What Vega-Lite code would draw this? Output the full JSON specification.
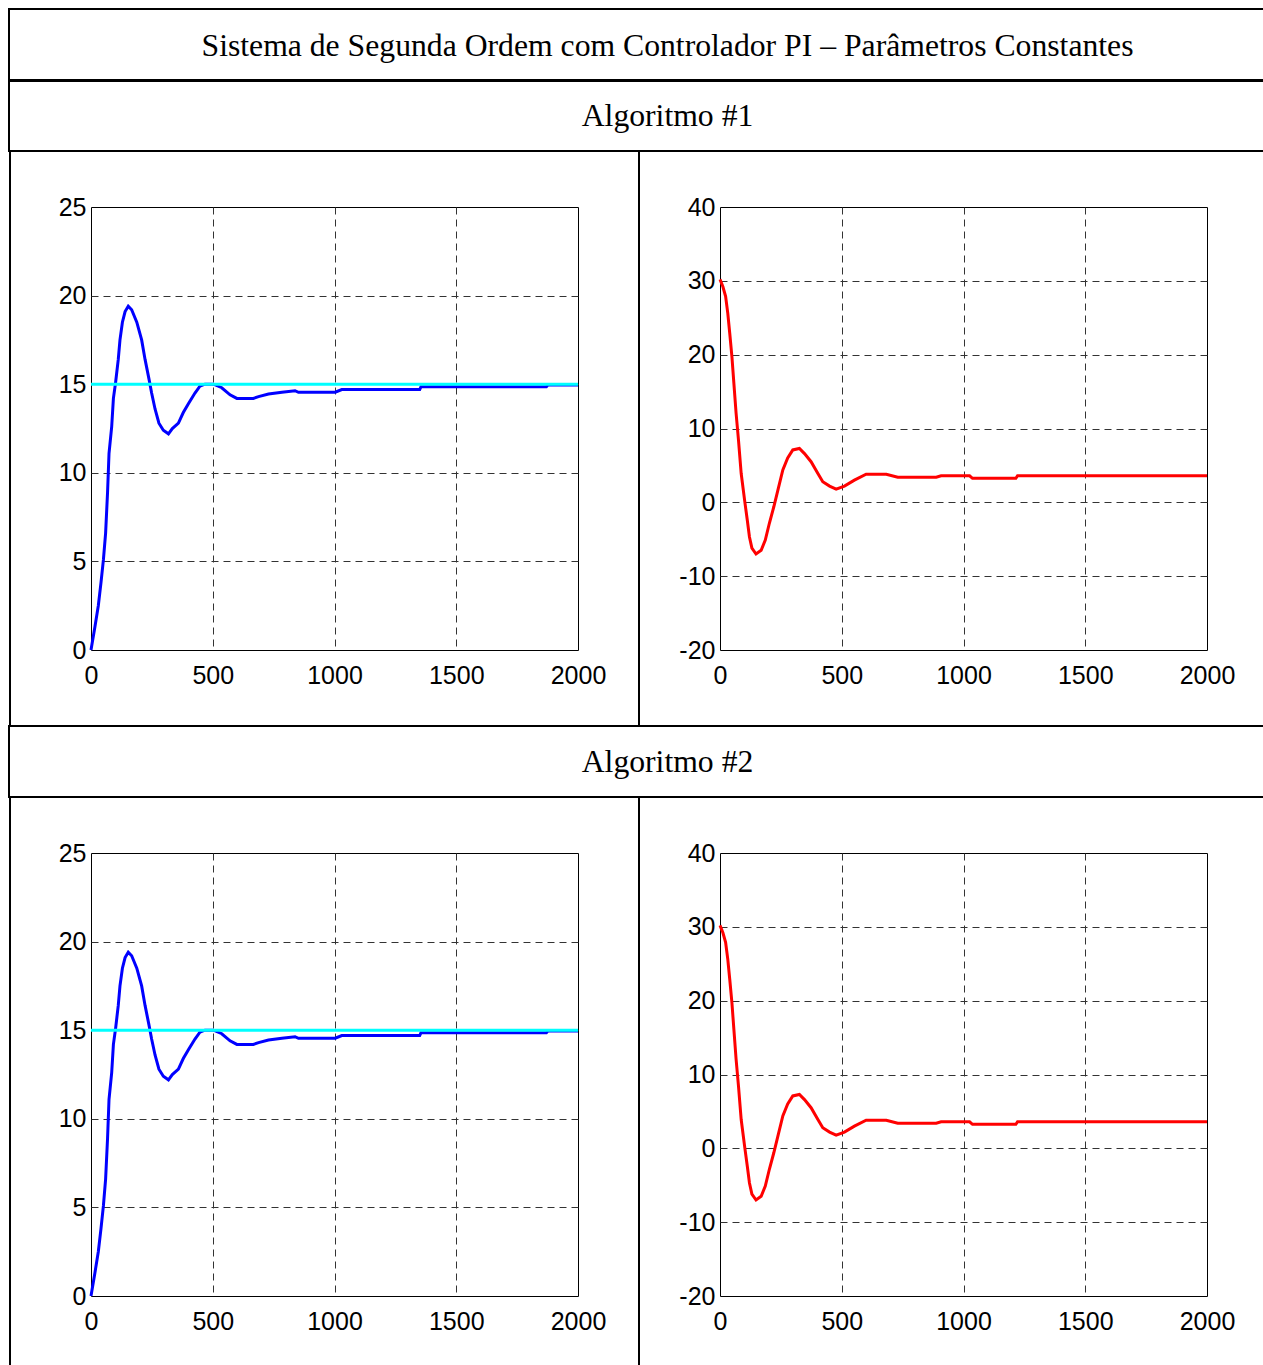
{
  "$schema": "https://vega.github.io/schema/vega-lite/v6.json",
  "padding": {"left": 8, "top": 8, "right": 0, "bottom": 0},
  "background": "white",
  "spacing": -2,
  "datasets": {
    "blue": [
      {"t":0,"v":0},{"t":16,"v":1.3},{"t":30,"v":2.5},{"t":41,"v":3.8},{"t":51,"v":5.1},{"t":60,"v":6.6},{"t":68,"v":8.9},{"t":74,"v":11.1},{"t":85,"v":12.6},{"t":92,"v":14.2},{"t":101,"v":15.1},{"t":112,"v":16.4},{"t":119,"v":17.5},{"t":129,"v":18.5},{"t":140,"v":19.1},{"t":153,"v":19.4},{"t":167,"v":19.2},{"t":188,"v":18.5},{"t":208,"v":17.5},{"t":222,"v":16.4},{"t":238,"v":15.3},{"t":249,"v":14.5},{"t":263,"v":13.6},{"t":279,"v":12.8},{"t":297,"v":12.4},{"t":318,"v":12.2},{"t":334,"v":12.5},{"t":359,"v":12.8},{"t":379,"v":13.4},{"t":400,"v":13.9},{"t":427,"v":14.5},{"t":448,"v":14.9},{"t":468,"v":15.0},{"t":503,"v":15.0},{"t":537,"v":14.8},{"t":571,"v":14.4},{"t":599,"v":14.2},{"t":667,"v":14.2},{"t":688,"v":14.3},{"t":729,"v":14.45},{"t":784,"v":14.55},{"t":838,"v":14.63},{"t":852,"v":14.54},{"t":1003,"v":14.55},{"t":1030,"v":14.7},{"t":1350,"v":14.7},{"t":1355,"v":14.85},{"t":1870,"v":14.85},{"t":1876,"v":14.95},{"t":2000,"v":14.95}
    ],
    "ref": [{"t":0,"v":15},{"t":2000,"v":15}],
    "red": [
      {"t":0,"v":30.2},{"t":12,"v":29.2},{"t":23,"v":27.9},{"t":32,"v":25.6},{"t":40,"v":22.9},{"t":49,"v":19.7},{"t":57,"v":16.1},{"t":66,"v":12.1},{"t":76,"v":8.4},{"t":87,"v":3.9},{"t":101,"v":0.3},{"t":112,"v":-2.4},{"t":121,"v":-4.7},{"t":131,"v":-6.2},{"t":148,"v":-7.0},{"t":169,"v":-6.5},{"t":186,"v":-5.1},{"t":203,"v":-2.8},{"t":221,"v":-0.6},{"t":238,"v":1.7},{"t":258,"v":4.4},{"t":278,"v":6.0},{"t":299,"v":7.1},{"t":326,"v":7.3},{"t":347,"v":6.6},{"t":374,"v":5.5},{"t":402,"v":3.9},{"t":422,"v":2.8},{"t":450,"v":2.2},{"t":477,"v":1.8},{"t":511,"v":2.2},{"t":552,"v":3.0},{"t":600,"v":3.8},{"t":683,"v":3.8},{"t":730,"v":3.4},{"t":888,"v":3.4},{"t":908,"v":3.6},{"t":1025,"v":3.6},{"t":1037,"v":3.25},{"t":1215,"v":3.25},{"t":1222,"v":3.6},{"t":2000,"v":3.6}
    ],
    "t0": [{"label": "Sistema de Segunda Ordem com Controlador PI – Parâmetros Constantes"}],
    "t1": [{"label": "Algoritmo #1"}],
    "t2": [{"label": "Algoritmo #2"}],
    "none": []
  },
  "config": {
    "view": {"stroke": null},
    "axis": {
      "grid": true,
      "gridDash": [7, 5],
      "gridColor": "#333333",
      "gridWidth": 1,
      "ticks": false,
      "tickSize": 0,
      "domain": false,
      "labelFont": "Liberation Sans",
      "labelFontSize": 25,
      "labelColor": "black",
      "labelFlush": false,
      "labelOverlap": false,
      "labelExpr": "'' + datum.value",
      "titleFontSize": 1,
      "titlePadding": 0,
      "titleAngle": 0,
      "titleAlign": "left",
      "titleBaseline": "top"
    }
  },
  "vconcat": [
    {
      "width": 1317, "height": 71,
      "data": {"name": "t0"},
      "mark": {"type": "text", "font": "Liberation Serif", "fontSize": 31.7, "color": "black", "dy": 1},
      "encoding": {"text": {"field": "label"}},
      "view": {"stroke": "black", "strokeWidth": 2}
    },
    {
      "width": 1317, "height": 70,
      "data": {"name": "t1"},
      "mark": {"type": "text", "font": "Liberation Serif", "fontSize": 31.7, "color": "black"},
      "encoding": {"text": {"field": "label"}},
      "view": {"stroke": "black", "strokeWidth": 2}
    },
    {
      "spacing": 0,
      "hconcat": [
        {"width": 2, "height": 574, "data": {"name": "none"}, "mark": "point", "view": {"fill": "black", "stroke": null}},
        {
          "spacing": 0,
          "vconcat": [
            {"width": 487, "height": 1, "data": {"name": "none"}, "mark": "point"},
            {
              "width": 487, "height": 443,
              "view": {"stroke": "black", "strokeWidth": 1},
              "layer": [
                {
                  "data": {"name": "blue"},
                  "mark": {"type": "line", "color": "#0000ff", "strokeWidth": 3},
                  "encoding": {
                    "x": {"field": "t", "type": "quantitative", "scale": {"domain": [0, 2000], "nice": false},
                          "axis": {"values": [0, 500, 1000, 1500, 2000], "labelPadding": 13, "title": " ", "titleX": 546, "titleY": 0,
                                   "gridOpacity": {"condition": {"test": "datum.value == 0 || datum.value == 2000", "value": 0}, "value": 1}}},
                    "y": {"field": "v", "type": "quantitative", "scale": {"domain": [0, 25], "nice": false},
                          "axis": {"values": [0, 5, 10, 15, 20, 25], "labelPadding": 5, "title": " ", "titleX": -79, "titleY": -53,
                                   "gridOpacity": {"condition": {"test": "datum.value == 0 || datum.value == 25", "value": 0}, "value": 1}}}
                  }
                },
                {
                  "data": {"name": "ref"},
                  "mark": {"type": "line", "color": "#00ffff", "strokeWidth": 3},
                  "encoding": {"x": {"field": "t", "type": "quantitative"}, "y": {"field": "v", "type": "quantitative"}}
                }
              ]
            }
          ]
        },
        {"width": 2, "height": 574, "data": {"name": "none"}, "mark": "point", "view": {"fill": "black", "stroke": null}},
        {
          "spacing": 0,
          "vconcat": [
            {"width": 487, "height": 1, "data": {"name": "none"}, "mark": "point"},
            {
              "width": 487, "height": 443,
              "view": {"stroke": "black", "strokeWidth": 1},
              "layer": [
                {
                  "data": {"name": "red"},
                  "mark": {"type": "line", "color": "#ff0000", "strokeWidth": 3},
                  "encoding": {
                    "x": {"field": "t", "type": "quantitative", "scale": {"domain": [0, 2000], "nice": false},
                          "axis": {"values": [0, 500, 1000, 1500, 2000], "labelPadding": 13, "title": null,
                                   "gridOpacity": {"condition": {"test": "datum.value == 0 || datum.value == 2000", "value": 0}, "value": 1}}},
                    "y": {"field": "v", "type": "quantitative", "scale": {"domain": [-20, 40], "nice": false},
                          "axis": {"values": [-20, -10, 0, 10, 20, 30, 40], "labelPadding": 5, "title": " ", "titleX": -79, "titleY": -53,
                                   "gridOpacity": {"condition": {"test": "datum.value == -20 || datum.value == 40", "value": 0}, "value": 1}}}
                  }
                }
              ]
            }
          ]
        }
      ]
    },
    {
      "width": 1317, "height": 71,
      "data": {"name": "t2"},
      "mark": {"type": "text", "font": "Liberation Serif", "fontSize": 31.7, "color": "black"},
      "encoding": {"text": {"field": "label"}},
      "view": {"stroke": "black", "strokeWidth": 2}
    },
    {
      "spacing": 0,
      "hconcat": [
        {"width": 2, "height": 568, "data": {"name": "none"}, "mark": "point", "view": {"fill": "black", "stroke": null}},
        {
          "spacing": 0,
          "vconcat": [
            {"width": 487, "height": 1, "data": {"name": "none"}, "mark": "point"},
            {
              "width": 487, "height": 443,
              "view": {"stroke": "black", "strokeWidth": 1},
              "layer": [
                {
                  "data": {"name": "blue"},
                  "mark": {"type": "line", "color": "#0000ff", "strokeWidth": 3},
                  "encoding": {
                    "x": {"field": "t", "type": "quantitative", "scale": {"domain": [0, 2000], "nice": false},
                          "axis": {"values": [0, 500, 1000, 1500, 2000], "labelPadding": 13, "title": " ", "titleX": 546, "titleY": 0,
                                   "gridOpacity": {"condition": {"test": "datum.value == 0 || datum.value == 2000", "value": 0}, "value": 1}}},
                    "y": {"field": "v", "type": "quantitative", "scale": {"domain": [0, 25], "nice": false},
                          "axis": {"values": [0, 5, 10, 15, 20, 25], "labelPadding": 5, "title": " ", "titleX": -79, "titleY": -53,
                                   "gridOpacity": {"condition": {"test": "datum.value == 0 || datum.value == 25", "value": 0}, "value": 1}}}
                  }
                },
                {
                  "data": {"name": "ref"},
                  "mark": {"type": "line", "color": "#00ffff", "strokeWidth": 3},
                  "encoding": {"x": {"field": "t", "type": "quantitative"}, "y": {"field": "v", "type": "quantitative"}}
                }
              ]
            }
          ]
        },
        {"width": 2, "height": 568, "data": {"name": "none"}, "mark": "point", "view": {"fill": "black", "stroke": null}},
        {
          "spacing": 0,
          "vconcat": [
            {"width": 487, "height": 1, "data": {"name": "none"}, "mark": "point"},
            {
              "width": 487, "height": 443,
              "view": {"stroke": "black", "strokeWidth": 1},
              "layer": [
                {
                  "data": {"name": "red"},
                  "mark": {"type": "line", "color": "#ff0000", "strokeWidth": 3},
                  "encoding": {
                    "x": {"field": "t", "type": "quantitative", "scale": {"domain": [0, 2000], "nice": false},
                          "axis": {"values": [0, 500, 1000, 1500, 2000], "labelPadding": 13, "title": null,
                                   "gridOpacity": {"condition": {"test": "datum.value == 0 || datum.value == 2000", "value": 0}, "value": 1}}},
                    "y": {"field": "v", "type": "quantitative", "scale": {"domain": [-20, 40], "nice": false},
                          "axis": {"values": [-20, -10, 0, 10, 20, 30, 40], "labelPadding": 5, "title": " ", "titleX": -79, "titleY": -53,
                                   "gridOpacity": {"condition": {"test": "datum.value == -20 || datum.value == 40", "value": 0}, "value": 1}}}
                  }
                }
              ]
            }
          ]
        }
      ]
    }
  ]
}
